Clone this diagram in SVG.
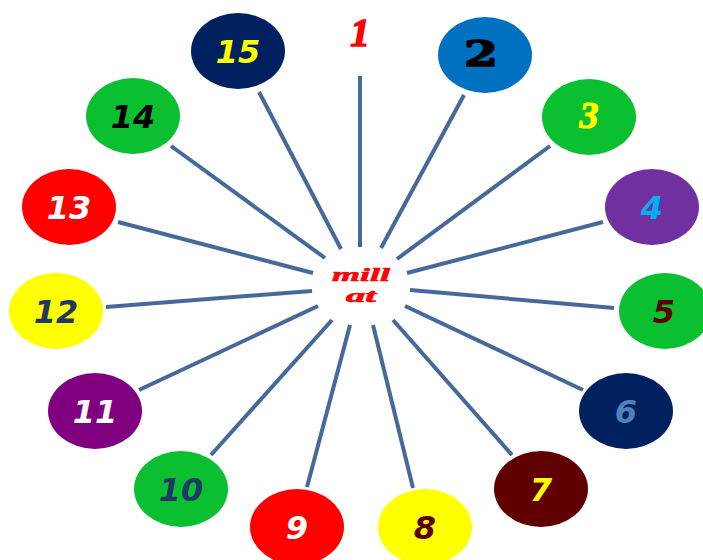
<svg xmlns="http://www.w3.org/2000/svg" width="703" height="560" viewBox="0 0 703 560">
<style>
.n{font-family:"DejaVu Sans",Verdana,sans-serif;font-weight:bold;font-style:italic;font-size:32px;text-anchor:middle}
.c line{stroke:#44699a;stroke-width:4;stroke-linecap:butt}
.s{font-family:"Liberation Serif","Times New Roman",serif;font-weight:bold;font-style:italic;text-anchor:middle}
</style>
<rect width="703" height="560" fill="#ffffff"/>
<g class="c" id="connectors">
<line x1="360" y1="247" x2="360" y2="76"/>
<line x1="381" y1="248" x2="464" y2="95"/>
<line x1="397" y1="259" x2="550" y2="146"/>
<line x1="407" y1="273" x2="603" y2="222"/>
<line x1="410" y1="290" x2="614" y2="308"/>
<line x1="405" y1="306" x2="583" y2="390"/>
<line x1="393" y1="320" x2="512" y2="455"/>
<line x1="373" y1="325" x2="413" y2="488"/>
<line x1="350" y1="325" x2="307" y2="487"/>
<line x1="332" y1="320" x2="211" y2="455"/>
<line x1="318" y1="306" x2="139" y2="390"/>
<line x1="312" y1="291" x2="106" y2="307"/>
<line x1="313" y1="273" x2="118" y2="222"/>
<line x1="325" y1="258" x2="171" y2="146"/>
<line x1="341" y1="249" x2="259" y2="92"/>
</g>
<g id="center">
<ellipse cx="361" cy="285" rx="46" ry="37" fill="#ffffff"/>
<text class="s" x="361" y="281" font-size="18" fill="#ff0000" stroke="#ff0000" stroke-width="0.6" textLength="58" lengthAdjust="spacingAndGlyphs">mill</text>
<text class="s" x="361" y="302" font-size="18" fill="#ff0000" stroke="#ff0000" stroke-width="0.6" textLength="30" lengthAdjust="spacingAndGlyphs">at</text>
</g>
<g id="n1"><ellipse cx="360" cy="37" rx="47" ry="37" fill="#ffffff"/><text class="s" x="360" y="46" font-size="39" fill="#ff0000" stroke="#ff0000" stroke-width="1.5">1</text></g>
<g id="n2"><ellipse cx="485" cy="55" rx="47" ry="38" fill="#0070c0"/><text x="481" y="66" font-family="'DejaVu Serif',serif" font-weight="bold" font-size="36" text-anchor="middle" fill="#000000" stroke="#000" stroke-width="1.5" textLength="34" lengthAdjust="spacingAndGlyphs">2</text></g>
<g id="n3"><ellipse cx="589" cy="117" rx="47" ry="38" fill="#0ac030"/><text class="s" x="589" y="128" font-size="38" fill="#ffff00" stroke="#ffff00" stroke-width="1.2">3</text></g>
<g id="n4"><ellipse cx="652" cy="207" rx="47" ry="38" fill="#7030a0"/><text class="n" x="652" y="219" fill="#00b0f0">4</text></g>
<g id="n5"><ellipse cx="665" cy="311" rx="46" ry="38" fill="#0ac030"/><text class="n" x="664" y="323" fill="#5a0000">5</text></g>
<g id="n6"><ellipse cx="626" cy="411" rx="47" ry="38" fill="#002060"/><text class="n" x="626" y="423" fill="#4f81bd">6</text></g>
<g id="n7"><ellipse cx="541" cy="489" rx="47" ry="38" fill="#600000"/><text class="n" x="541" y="501" fill="#ffff00">7</text></g>
<g id="n8"><ellipse cx="425" cy="527" rx="47" ry="38" fill="#ffff00"/><text class="n" x="425" y="539" fill="#5a0000">8</text></g>
<g id="n9"><ellipse cx="297" cy="527" rx="47" ry="38" fill="#ff0000"/><text class="n" x="297" y="539" fill="#ffffff">9</text></g>
<g id="n10"><ellipse cx="181" cy="489" rx="47" ry="38" fill="#0ac030"/><text class="n" x="181" y="501" fill="#1f3864">10</text></g>
<g id="n11"><ellipse cx="95" cy="411" rx="47" ry="38" fill="#800080"/><text class="n" x="95" y="423" fill="#ffffff">11</text></g>
<g id="n12"><ellipse cx="56" cy="311" rx="47" ry="38" fill="#ffff00"/><text class="n" x="56" y="323" fill="#1f3864">12</text></g>
<g id="n13"><ellipse cx="69" cy="207" rx="47" ry="38" fill="#ff0000"/><text class="n" x="69" y="219" fill="#ffffff">13</text></g>
<g id="n14"><ellipse cx="133" cy="116" rx="47" ry="38" fill="#0ac030"/><text class="n" x="133" y="128" fill="#000000">14</text></g>
<g id="n15"><ellipse cx="238" cy="51" rx="47" ry="38" fill="#002060"/><text class="n" x="238" y="63" fill="#ffff00">15</text></g>
</svg>
